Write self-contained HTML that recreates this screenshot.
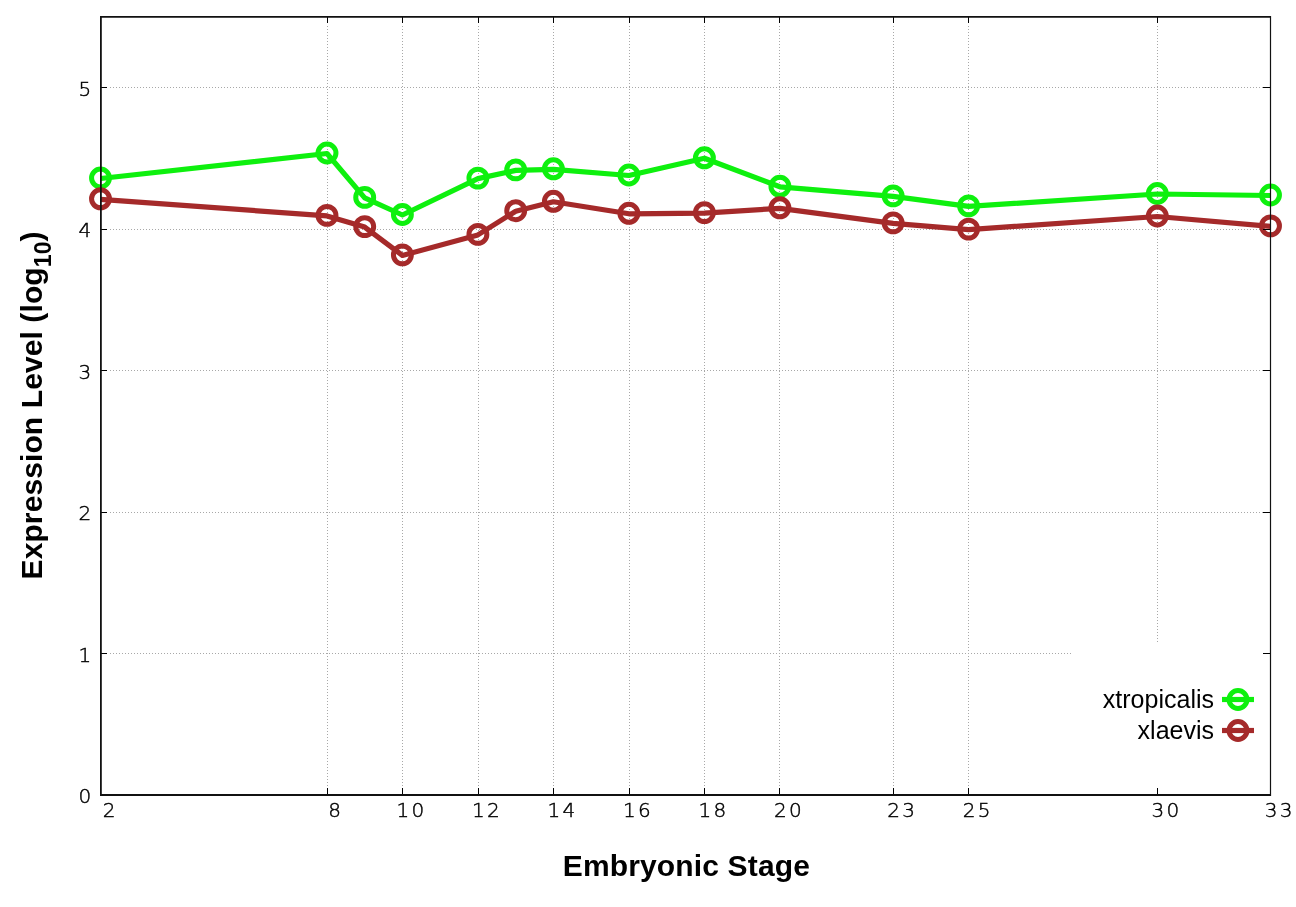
<!DOCTYPE html>
<html><head><meta charset="utf-8"><style>
html,body{margin:0;padding:0;background:#fff;width:1296px;height:907px;overflow:hidden}
svg{display:block;will-change:transform}
.tl{font-family:"DejaVu Sans","Liberation Mono",monospace;font-weight:200;font-size:20px;fill:#000;stroke:#000;stroke-width:0.45px}
.lab{font-family:"Liberation Sans",Arial,sans-serif;font-weight:bold;font-size:30px;fill:#000}
.key{font-family:"Liberation Sans",Arial,sans-serif;font-size:25px;fill:#000}
</style></head><body>
<svg width="1296" height="907" viewBox="0 0 1296 907">
<rect width="1296" height="907" fill="#fff"/>
<g stroke="#a8a8a8" stroke-width="1" stroke-dasharray="1 2" shape-rendering="crispEdges"><line x1="110" y1="653.5" x2="1263" y2="653.5"/><line x1="110" y1="512.5" x2="1263" y2="512.5"/><line x1="110" y1="370.5" x2="1263" y2="370.5"/><line x1="110" y1="229.5" x2="1263" y2="229.5"/><line x1="110" y1="87.5" x2="1263" y2="87.5"/><line x1="327.5" y1="789" x2="327.5" y2="24"/><line x1="402.5" y1="789" x2="402.5" y2="24"/><line x1="478.5" y1="789" x2="478.5" y2="24"/><line x1="553.5" y1="789" x2="553.5" y2="24"/><line x1="629.5" y1="789" x2="629.5" y2="24"/><line x1="704.5" y1="789" x2="704.5" y2="24"/><line x1="779.5" y1="789" x2="779.5" y2="24"/><line x1="893.5" y1="789" x2="893.5" y2="24"/><line x1="968.5" y1="789" x2="968.5" y2="24"/><line x1="1157.5" y1="789" x2="1157.5" y2="24"/></g>
<polyline points="100.5,178.5 327.0,153.5 364.7,197.9 402.4,215.0 477.9,178.6 515.7,170.4 553.4,169.3 628.9,175.5 704.4,158.3 779.9,186.8 893.1,196.4 968.6,206.4 1157.3,194.0 1270.5,195.5" fill="none" stroke="#0ef00e" stroke-width="5.2" stroke-linejoin="round" stroke-linecap="butt"/><circle cx="100.5" cy="178.0" r="8.95" fill="none" stroke="#0ef00e" stroke-width="5.0"/><circle cx="327.0" cy="153.0" r="8.95" fill="none" stroke="#0ef00e" stroke-width="5.0"/><circle cx="364.7" cy="197.4" r="8.95" fill="none" stroke="#0ef00e" stroke-width="5.0"/><circle cx="402.4" cy="214.5" r="8.95" fill="none" stroke="#0ef00e" stroke-width="5.0"/><circle cx="477.9" cy="178.1" r="8.95" fill="none" stroke="#0ef00e" stroke-width="5.0"/><circle cx="515.7" cy="169.9" r="8.95" fill="none" stroke="#0ef00e" stroke-width="5.0"/><circle cx="553.4" cy="168.8" r="8.95" fill="none" stroke="#0ef00e" stroke-width="5.0"/><circle cx="628.9" cy="175.0" r="8.95" fill="none" stroke="#0ef00e" stroke-width="5.0"/><circle cx="704.4" cy="157.8" r="8.95" fill="none" stroke="#0ef00e" stroke-width="5.0"/><circle cx="779.9" cy="186.3" r="8.95" fill="none" stroke="#0ef00e" stroke-width="5.0"/><circle cx="893.1" cy="195.9" r="8.95" fill="none" stroke="#0ef00e" stroke-width="5.0"/><circle cx="968.6" cy="205.9" r="8.95" fill="none" stroke="#0ef00e" stroke-width="5.0"/><circle cx="1157.3" cy="193.5" r="8.95" fill="none" stroke="#0ef00e" stroke-width="5.0"/><circle cx="1270.5" cy="195.0" r="8.95" fill="none" stroke="#0ef00e" stroke-width="5.0"/>
<polyline points="100.5,199.3 327.0,215.9 364.7,227.1 402.4,255.4 477.9,234.9 515.7,211.2 553.4,201.8 628.9,213.8 704.4,213.1 779.9,208.3 893.1,223.4 968.6,229.6 1157.3,216.5 1270.5,226.4" fill="none" stroke="#a52a2a" stroke-width="5.2" stroke-linejoin="round" stroke-linecap="butt"/><circle cx="100.5" cy="198.8" r="8.95" fill="none" stroke="#a52a2a" stroke-width="5.0"/><circle cx="327.0" cy="215.4" r="8.95" fill="none" stroke="#a52a2a" stroke-width="5.0"/><circle cx="364.7" cy="226.6" r="8.95" fill="none" stroke="#a52a2a" stroke-width="5.0"/><circle cx="402.4" cy="254.9" r="8.95" fill="none" stroke="#a52a2a" stroke-width="5.0"/><circle cx="477.9" cy="234.4" r="8.95" fill="none" stroke="#a52a2a" stroke-width="5.0"/><circle cx="515.7" cy="210.7" r="8.95" fill="none" stroke="#a52a2a" stroke-width="5.0"/><circle cx="553.4" cy="201.3" r="8.95" fill="none" stroke="#a52a2a" stroke-width="5.0"/><circle cx="628.9" cy="213.3" r="8.95" fill="none" stroke="#a52a2a" stroke-width="5.0"/><circle cx="704.4" cy="212.6" r="8.95" fill="none" stroke="#a52a2a" stroke-width="5.0"/><circle cx="779.9" cy="207.8" r="8.95" fill="none" stroke="#a52a2a" stroke-width="5.0"/><circle cx="893.1" cy="222.9" r="8.95" fill="none" stroke="#a52a2a" stroke-width="5.0"/><circle cx="968.6" cy="229.1" r="8.95" fill="none" stroke="#a52a2a" stroke-width="5.0"/><circle cx="1157.3" cy="216.0" r="8.95" fill="none" stroke="#a52a2a" stroke-width="5.0"/><circle cx="1270.5" cy="225.9" r="8.95" fill="none" stroke="#a52a2a" stroke-width="5.0"/>
<rect x="1071" y="642" width="199" height="153" fill="#fff"/>
<line x1="1222" y1="699.5" x2="1254" y2="699.5" stroke="#0ef00e" stroke-width="5.2"/><circle cx="1238" cy="699.5" r="8.95" fill="none" stroke="#0ef00e" stroke-width="5.0"/>
<line x1="1222" y1="730.5" x2="1254" y2="730.5" stroke="#a52a2a" stroke-width="5.2"/><circle cx="1238" cy="730.5" r="8.95" fill="none" stroke="#a52a2a" stroke-width="5.0"/>
<text class="key" x="1214" y="708" text-anchor="end">xtropicalis</text>
<text class="key" x="1214" y="739" text-anchor="end">xlaevis</text>
<g stroke="#000" stroke-width="1" shape-rendering="crispEdges"><line x1="100" y1="795.5" x2="107" y2="795.5"/><line x1="1263" y1="795.5" x2="1270" y2="795.5"/><line x1="100" y1="653.5" x2="107" y2="653.5"/><line x1="1263" y1="653.5" x2="1270" y2="653.5"/><line x1="100" y1="512.5" x2="107" y2="512.5"/><line x1="1263" y1="512.5" x2="1270" y2="512.5"/><line x1="100" y1="370.5" x2="107" y2="370.5"/><line x1="1263" y1="370.5" x2="1270" y2="370.5"/><line x1="100" y1="229.5" x2="107" y2="229.5"/><line x1="1263" y1="229.5" x2="1270" y2="229.5"/><line x1="100" y1="87.5" x2="107" y2="87.5"/><line x1="1263" y1="87.5" x2="1270" y2="87.5"/><line x1="100.5" y1="795" x2="100.5" y2="788"/><line x1="100.5" y1="17" x2="100.5" y2="23"/><line x1="327.5" y1="795" x2="327.5" y2="788"/><line x1="327.5" y1="17" x2="327.5" y2="23"/><line x1="402.5" y1="795" x2="402.5" y2="788"/><line x1="402.5" y1="17" x2="402.5" y2="23"/><line x1="478.5" y1="795" x2="478.5" y2="788"/><line x1="478.5" y1="17" x2="478.5" y2="23"/><line x1="553.5" y1="795" x2="553.5" y2="788"/><line x1="553.5" y1="17" x2="553.5" y2="23"/><line x1="629.5" y1="795" x2="629.5" y2="788"/><line x1="629.5" y1="17" x2="629.5" y2="23"/><line x1="704.5" y1="795" x2="704.5" y2="788"/><line x1="704.5" y1="17" x2="704.5" y2="23"/><line x1="779.5" y1="795" x2="779.5" y2="788"/><line x1="779.5" y1="17" x2="779.5" y2="23"/><line x1="893.5" y1="795" x2="893.5" y2="788"/><line x1="893.5" y1="17" x2="893.5" y2="23"/><line x1="968.5" y1="795" x2="968.5" y2="788"/><line x1="968.5" y1="17" x2="968.5" y2="23"/><line x1="1157.5" y1="795" x2="1157.5" y2="788"/><line x1="1157.5" y1="17" x2="1157.5" y2="23"/><line x1="1270.5" y1="795" x2="1270.5" y2="788"/><line x1="1270.5" y1="17" x2="1270.5" y2="23"/></g>
<g stroke="#111" fill="none"><line x1="100" y1="16.9" x2="1271" y2="16.9" stroke-width="1.8"/><line x1="100" y1="795" x2="1271" y2="795" stroke-width="2"/><line x1="100.9" y1="16" x2="100.9" y2="796" stroke-width="1.8"/><line x1="1270.5" y1="16" x2="1270.5" y2="796" stroke-width="1.2"/></g>
<text class="tl" x="91.3" y="803.4" text-anchor="end">0</text><text class="tl" x="91.3" y="661.9" text-anchor="end">1</text><text class="tl" x="91.3" y="520.3" text-anchor="end">2</text><text class="tl" x="91.3" y="378.7" text-anchor="end">3</text><text class="tl" x="91.3" y="237.2" text-anchor="end">4</text><text class="tl" x="91.3" y="95.7" text-anchor="end">5</text><text class="tl" x="109.0" y="816.8" text-anchor="middle">2</text><text class="tl" x="334.5" y="816.8" text-anchor="middle">8</text><text class="tl" x="402.9 417.9" y="816.8" text-anchor="middle">10</text><text class="tl" x="478.4 493.4" y="816.8" text-anchor="middle">12</text><text class="tl" x="553.9 568.9" y="816.8" text-anchor="middle">14</text><text class="tl" x="629.4 644.4" y="816.8" text-anchor="middle">16</text><text class="tl" x="704.9 719.9" y="816.8" text-anchor="middle">18</text><text class="tl" x="780.4 795.4" y="816.8" text-anchor="middle">20</text><text class="tl" x="893.6 908.6" y="816.8" text-anchor="middle">23</text><text class="tl" x="969.1 984.1" y="816.8" text-anchor="middle">25</text><text class="tl" x="1157.8 1172.8" y="816.8" text-anchor="middle">30</text><text class="tl" x="1271.0 1286.0" y="816.8" text-anchor="middle">33</text>
<text class="lab" x="686.4" y="875.8" text-anchor="middle" letter-spacing="0.15">Embryonic Stage</text>
<text class="lab" transform="translate(42,405.4) rotate(-90)" text-anchor="middle" letter-spacing="0.1">Expression Level (log<tspan style="font-weight:bold;font-size:23px" dy="8.7">10</tspan><tspan dy="-8.7">)</tspan></text>
</svg></body></html>
